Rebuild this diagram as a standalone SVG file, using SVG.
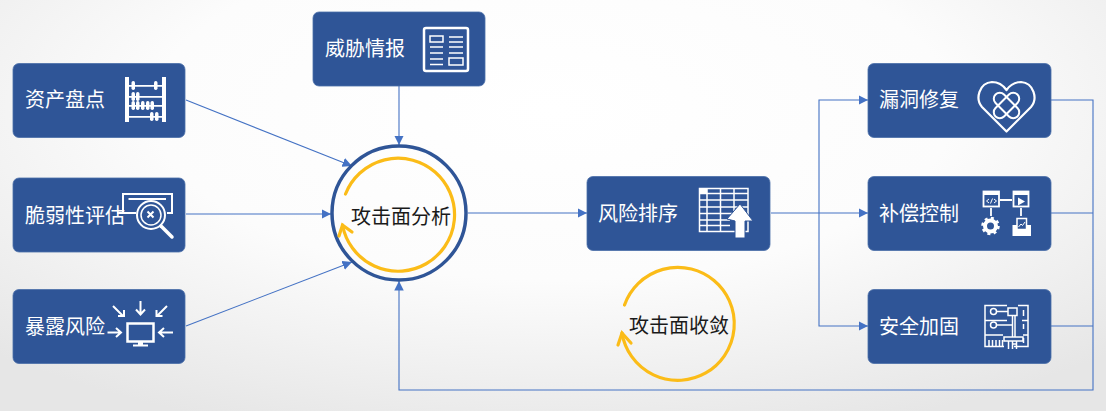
<svg xmlns="http://www.w3.org/2000/svg" width="1106" height="411" viewBox="0 0 1106 411">
<style>
text{font-family:"Noto Sans CJK SC","Noto Sans",sans-serif;font-size:20px}
.box{fill:#2f5597;stroke:#4a6ea8;stroke-width:.8}
.lbl{fill:#fff}
.dark{fill:#1a1a1a}
.ic{fill:none;stroke:#fff;stroke-width:2}
.th{fill:none;stroke:#fff;stroke-width:1.500}
.fw{fill:#fff;stroke:none}
.c{fill:none;stroke:#4472c4;stroke-width:1.100}
.a{marker-end:url(#arr)}
.y{fill:none;stroke:#fbbc18;stroke-width:3.200;stroke-linecap:round}
</style>
<defs>
<radialGradient id="bg" gradientUnits="userSpaceOnUse" cx="0" cy="0" r="1" gradientTransform="translate(553 110) scale(800 340)">
<stop offset="0" stop-color="#ffffff"/><stop offset=".5" stop-color="#fcfcfc"/><stop offset="1" stop-color="#e6e6e6"/>
</radialGradient>
<marker id="arr" viewBox="0 0 10 10" refX="10" refY="5" markerWidth="9.500" markerHeight="9.500" markerUnits="userSpaceOnUse" orient="auto"><path d="M0 0L10 5L0 10Z" fill="#4472c4"/></marker>
</defs>
<rect width="1106" height="411" fill="url(#bg)"/>
<g id="connectors">
<path class="c a" d="M186 100L352 166"/>
<path class="c a" d="M186 214L331 214"/>
<path class="c a" d="M186 326L352 262"/>
<path class="c a" d="M399 86V145"/>
<path class="c a" d="M468 213H587"/>
<path class="c a" d="M771 213H868"/>
<path class="c a" d="M819 213V100H868"/>
<path class="c a" d="M819 213V326H868"/>
<path class="c a" d="M1051 100H1093V390H399V281"/>
<path class="c" d="M1051 213H1093"/>
<path class="c" d="M1051 326H1093"/>
</g>
<g id="n-asset">
<rect class="box" x="13" y="63.500" width="172" height="74" rx="6"/>
<text class="lbl" x="25" y="107">资产盘点</text>
<path class="fw" d="M125 77h4v45h-4zM162 77h4v45h-4zM129 85h33v1.800h-33zM129 96h33v1.800h-33zM129 105h33v1.800h-33zM129 116h33v1.800h-33z"/>
<g class="fw"><rect x="131.500" y="81" width="3.500" height="9" rx="1.700"/><rect x="154" y="81" width="3.500" height="9" rx="1.700"/><rect x="131.500" y="92" width="3.500" height="9" rx="1.700"/><rect x="136" y="92" width="3.500" height="9" rx="1.700"/><rect x="131.500" y="101" width="3.500" height="9" rx="1.700"/><rect x="136" y="101" width="3.500" height="9" rx="1.700"/><rect x="141" y="101" width="3.500" height="9" rx="1.700"/><rect x="146" y="101" width="3.500" height="9" rx="1.700"/><rect x="150.500" y="101" width="3.500" height="9" rx="1.700"/><rect x="150" y="112" width="3.500" height="9" rx="1.700"/><rect x="155" y="112" width="3.500" height="9" rx="1.700"/></g>
</g>
<g id="n-vuln">
<rect class="box" x="13" y="178" width="172" height="74" rx="6"/>
<text class="lbl" x="25" y="223">脆弱性评估</text>
<path class="ic" d="M136 213H123V194H172V213H167"/>
<path class="ic" d="M128.500 199H166"/>
<path class="ic" d="M117 213H136"/>
<circle cx="151" cy="215" r="14" fill="#2f5597" stroke="#fff" stroke-width="2"/>
<circle class="th" cx="151" cy="215" r="10"/>
<path d="M147.500 211.500l6 6M153.500 211.500l-6 6" class="ic"/>
<path d="M161 226L172 237" fill="none" stroke="#fff" stroke-width="3.500" stroke-linecap="round"/>
</g>
<g id="n-expose">
<rect class="box" x="13" y="289.500" width="172" height="74" rx="6"/>
<text class="lbl" x="25" y="334">暴露风险</text>
<g class="ic">
<path d="M113 306L123 316M118 316h6v-6"/>
<path d="M140.500 301V314M136 309.500l4.500 5 4.500-5"/>
<path d="M167 306L157 316M156.500 310v6h6"/>
<path d="M107.500 332.500H121M116 328l5 4.500-5 4.500"/>
<path d="M173 332.500H159M164 328l-5 4.500 5 4.500"/>
</g>
<rect x="127.500" y="323.500" width="26" height="18" fill="none" stroke="#fff" stroke-width="2.500"/>
<path class="fw" d="M138 342h5v3h-5zM133 344.500h15v2h-15z"/>
</g>
<g id="n-threat">
<rect class="box" x="313" y="12" width="172" height="74" rx="6"/>
<text class="lbl" x="325" y="56">威胁情报</text>
<rect x="424" y="28" width="44" height="43" rx="2" fill="none" stroke="#fff" stroke-width="2.500"/>
<rect class="th" x="430" y="36" width="13" height="6"/>
<path class="th" d="M430 47H443M430 53H443M430 59H443M430 64.500H443M449 37H463M449 42H463M449 47H463M449 53H463"/>
<rect class="th" x="449" y="58" width="14" height="7"/>
</g>
<g id="n-center">
<circle cx="399" cy="213" r="67" fill="none" stroke="#2f5597" stroke-width="3.500"/>
<path class="y" d="M345.500 194A56.500 56.500 0 1 1 342.500 225"/>
<path class="y" d="M339 236L342.500 225L352 232"/>
<text class="dark" x="351" y="224">攻击面分析</text>
</g>
<g id="n-rank">
<rect class="box" x="587" y="176.500" width="183" height="74" rx="6"/>
<text class="lbl" x="598" y="221">风险排序</text>
<path class="th" d="M699.500 188.500H748V231.500H699.500ZM707 188.500V231.500M720.500 188.500V231.500M734 188.500V212M699.500 193.500H748M699.500 200H748M699.500 207H748M699.500 213.500H735M699.500 220H730M699.500 225.500H730"/>
<path class="fw" d="M699 188h8v5h-8z"/>
<path d="M727 219L740 204L753 221H745V238H735V221Z" fill="#fff" stroke="#2f5597" stroke-width="1"/>
</g>
<g id="n-repair">
<rect class="box" x="868" y="63.500" width="183" height="74" rx="6"/>
<text class="lbl" x="879" y="107">漏洞修复</text>
<path d="M1006.500 131.500L982 107C975 99 979 83 992 82C998 82 1003 85 1006.500 90C1010 85 1015 82 1021 82C1034 83 1038 99 1031 107Z" fill="none" stroke="#fff" stroke-width="2.200" stroke-linejoin="round"/>
<rect class="ic" x="1000.500" y="90" width="12" height="31" rx="6" transform="rotate(-45 1006.500 105.500)"/>
<rect class="ic" x="1000.500" y="90" width="12" height="31" rx="6" transform="rotate(45 1006.500 105.500)"/>
</g>
<g id="n-comp">
<rect class="box" x="868" y="176.500" width="183" height="74" rx="6"/>
<text class="lbl" x="879" y="221">补偿控制</text>
<g class="ic" style="stroke-width:1.800">
<rect x="983.500" y="191.500" width="15.500" height="15"/>
<rect x="1013.500" y="191.500" width="15" height="15"/>
<path d="M1000 200H1012M991 208V216M1021 208V216"/>
</g>
<path class="fw" d="M983 191h16v4h-16zM1013 191h16v4h-16z"/>
<path class="th" style="stroke-width:1" d="M989 199l-2.500 2 2.500 2M994 199l2.500 2-2.500 2M992.500 198.500l-2 5"/>
<path class="fw" d="M1018 197.500L1025 201.500L1018 205.500Z"/>
<circle cx="990.500" cy="226" r="5.500" fill="none" stroke="#fff" stroke-width="4"/>
<circle cx="990.500" cy="226" r="8" fill="none" stroke="#fff" stroke-width="2.500" stroke-dasharray="3 3.300"/>
<rect class="fw" x="1012.500" y="225" width="18.500" height="11"/>
<rect x="1017" y="218.500" width="9.500" height="11" fill="#2f5597" stroke="#fff" stroke-width="1.500"/>
<path d="M1018.500 227l2.500-3 1.500 1.500 2.500-3.500" fill="none" stroke="#fff" stroke-width="1"/>
</g>
<g id="n-harden">
<rect class="box" x="868" y="289.500" width="183" height="74" rx="6"/>
<text class="lbl" x="879" y="334">安全加固</text>
<g class="th">
<path d="M1007 305.500H985V320.500H1007M985 320.500V335H1003M985 335V346.500H1004M1014 346.500H1028V305.500H1018"/>
<path d="M1028 320.500H1022M1028 335H1023"/>
<circle cx="993.500" cy="311.500" r="3"/><circle cx="993.500" cy="325" r="3"/>
<path d="M997 311.500H1008M997 325H1013M989 340V346M992.500 340V346M996 340V346M999.500 340V346M1002.500 340V346"/>
<rect x="1008" y="308" width="9" height="7.500"/>
<path d="M1012.500 316V337M1015 316V337M1023.500 310V316M1023.500 324V329M1023.500 338V343"/>
<path d="M1004 337H1023V341H1004ZM1008.500 341V349M1012.500 341V349M1016.500 341V349M1012.500 344H1016.500"/>
</g>
</g>
<g id="n-converge">
<path class="y" d="M624.500 305A56.500 56.500 0 1 1 622 333"/>
<path class="y" d="M618 345L622 333L631 343"/>
<text class="dark" x="629" y="333">攻击面收敛</text>
</g>
</svg>
